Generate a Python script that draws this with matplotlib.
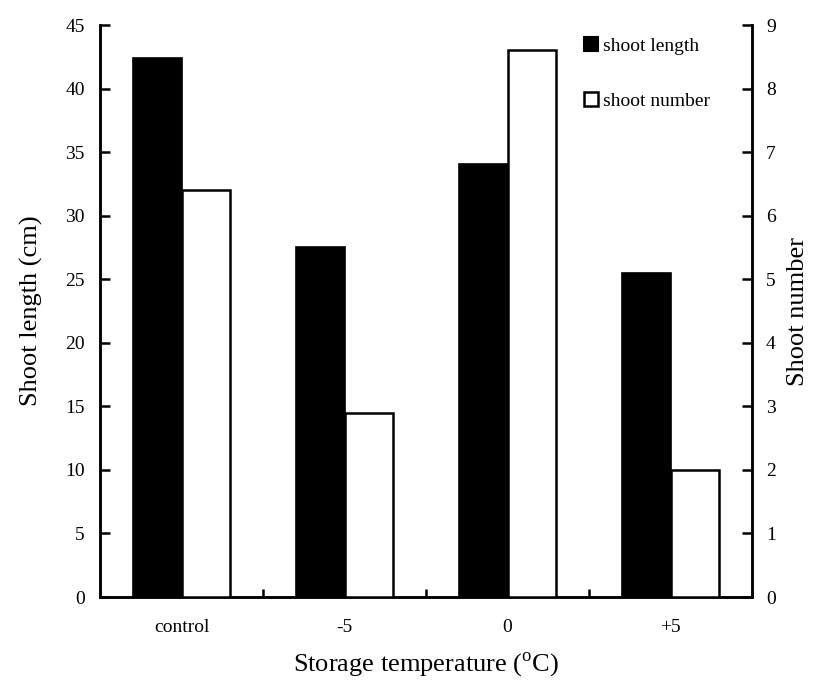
import numpy as np
import matplotlib
matplotlib.use("Agg")
import matplotlib.pyplot as plt
from matplotlib.patches import Patch

plt.rcParams['font.family'] = ['Liberation Serif', 'DejaVu Serif']
plt.rcParams['mathtext.fontset'] = 'custom'
plt.rcParams['mathtext.rm'] = 'Liberation Serif'

# storage treatments and measured values
categories = ["control", "-5", "0", "+5"]
shoot_length = [42.4, 27.5, 34.1, 25.5]   # cm, left axis
shoot_number = [6.4, 2.9, 8.6, 2.0]       # right axis

fig = plt.figure(figsize=(8.14, 6.82), dpi=100)
ax = fig.add_axes([100/814, 85/682, 652/814, 572/682])
ax2 = ax.twinx()

x = np.arange(len(categories))
w = 0.295

ax.bar(x - w/2, shoot_length, width=w, color='black', edgecolor='black', linewidth=1.2, zorder=3)
ax2.bar(x + w/2, shoot_number, width=w, color='white', edgecolor='black', linewidth=1.8, zorder=3)

ax.set_xlim(-0.5, 3.5)
ax.set_ylim(0, 45)
ax2.set_ylim(0, 9)
ax.set_yticks(np.arange(0, 46, 5))
ax2.set_yticks(np.arange(0, 10, 1))

ax.set_xticks(x)
ax.set_xticklabels(categories)
ax.set_xticks(np.arange(0.5, 3.5, 1), minor=True)
ax.tick_params(axis='x', which='major', length=0, pad=16, labelsize=14)
ax.tick_params(axis='x', which='minor', direction='in', length=6, width=1.8)
ax.tick_params(axis='y', direction='in', length=7, width=1.8, pad=11, labelsize=14)
ax2.tick_params(axis='y', direction='in', length=7, width=1.8, pad=10, labelsize=14)

for a in (ax, ax2):
    a.spines['top'].set_visible(False)
    for s in ('left', 'right', 'bottom'):
        a.spines[s].set_linewidth(1.8)

ax.set_ylabel("Shoot length (cm)", fontsize=19, labelpad=16)
ax2.set_ylabel("Shoot number", fontsize=19, labelpad=8, rotation=90)
ax.set_xlabel(r"Storage temperature ($^{\mathrm{o}}$C)", fontsize=19, labelpad=10)

handles = [Patch(facecolor='black', edgecolor='black', linewidth=1.5),
           Patch(facecolor='white', edgecolor='black', linewidth=1.8)]
ax.legend(handles, ["shoot length", "shoot number"], loc='upper left',
          bbox_to_anchor=(0.715, 1.01), frameon=False, fontsize=14,
          handlelength=0.75, handleheight=0.75, handletextpad=0.25, labelspacing=1.9)

fig.savefig("out.png", dpi=100)
